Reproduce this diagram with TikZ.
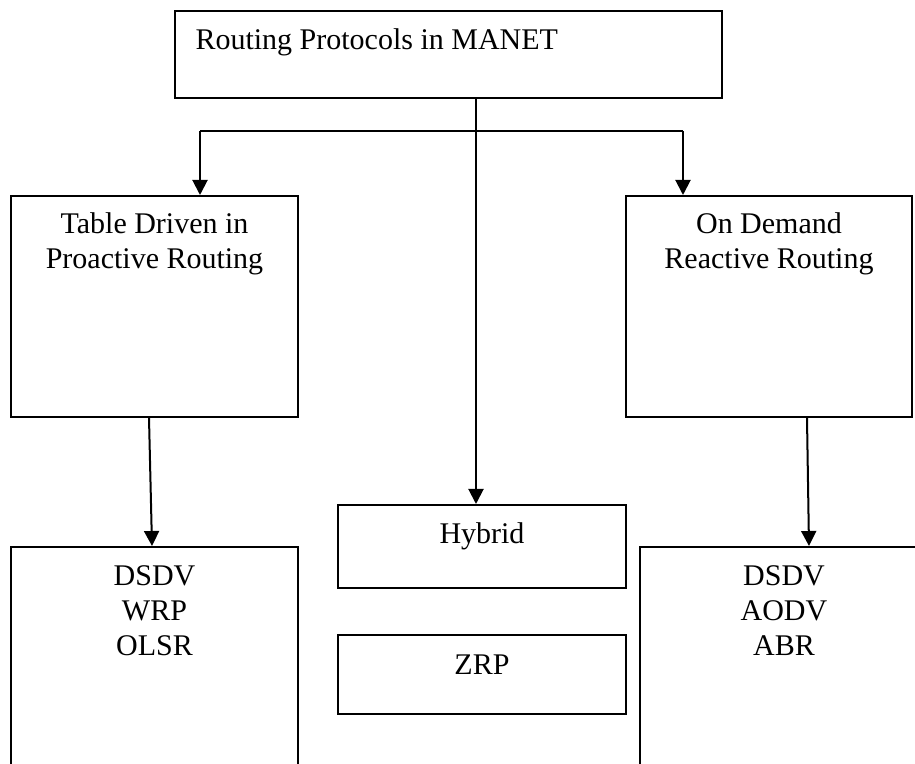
\documentclass[tikz,border=0pt]{standalone}
\usepackage{fontspec}
\setmainfont{Liberation Serif}
\usetikzlibrary{arrows.meta}
\begin{document}
\begin{tikzpicture}[x=0.4pt,y=-0.4pt,
  box/.style={draw=black,line width=0.8pt,rectangle,inner sep=0pt},
  lbl/.style={inner sep=0pt,align=center,font=\fontsize{12}{14}\selectfont},
  conn/.style={line width=0.8pt},
  arr/.style={line width=0.8pt,-{Triangle[width=6pt,length=6pt]}}]
\useasboundingbox (0,0) rectangle (915,764);
\clip (0,0) rectangle (915,764);
\fill[white] (0,0) rectangle (915,764);
% boxes
\node[box,minimum width=218.8pt,minimum height=34.8pt] (top) at (448.5,54.5) {};
\node[box,minimum width=114.8pt,minimum height=88.4pt] (tdr) at (154.5,306.5) {};
\node[box,minimum width=114.4pt,minimum height=88.4pt] (odr) at (769,306.5) {};
\node[box,minimum width=115.2pt,minimum height=33.2pt] (hyb) at (482,546.5) {};
\node[box,minimum width=115.2pt,minimum height=31.6pt] (zrp) at (482,674.5) {};
\node[box,minimum width=114.8pt,minimum height=101.2pt] (pl) at (154.5,673.5) {};
\node[box,minimum width=115.2pt,minimum height=101.2pt] (pr) at (784,673.5) {};
% texts
\node[lbl,anchor=north west] (ttop) at (195,28.5) {Routing Protocols in MANET};
\node[lbl,anchor=north] (ttdr) at (154.5,212.5) {Table Driven in\\Proactive Routing};
\node[lbl,anchor=north] (todr) at (769,212.5) {On Demand\\Reactive Routing};
\node[lbl,anchor=north] (thyb) at (482,522.5) {Hybrid};
\node[lbl,anchor=north] (tzrp) at (482,654) {ZRP};
\node[lbl,anchor=north] (tpl) at (154.5,565) {DSDV\\WRP\\OLSR};
\node[lbl,anchor=north] (tpr) at (784,565) {DSDV\\AODV\\ABR};
% connectors
\coordinate (jl) at (200,131);
\coordinate (jr) at (683,131);
\draw[conn] (jl) -- (jr);
\draw[arr] (476,0 |- top.south) -- (476,0 |- hyb.north);
\draw[arr] (jl) -- (jl |- tdr.north);
\draw[arr] (jr) -- (jr |- odr.north);
\draw[arr] (149,0 |- tdr.south) -- (152,0 |- pl.north);
\draw[arr] (807,0 |- odr.south) -- (809,0 |- pr.north);
\end{tikzpicture}
\end{document}
